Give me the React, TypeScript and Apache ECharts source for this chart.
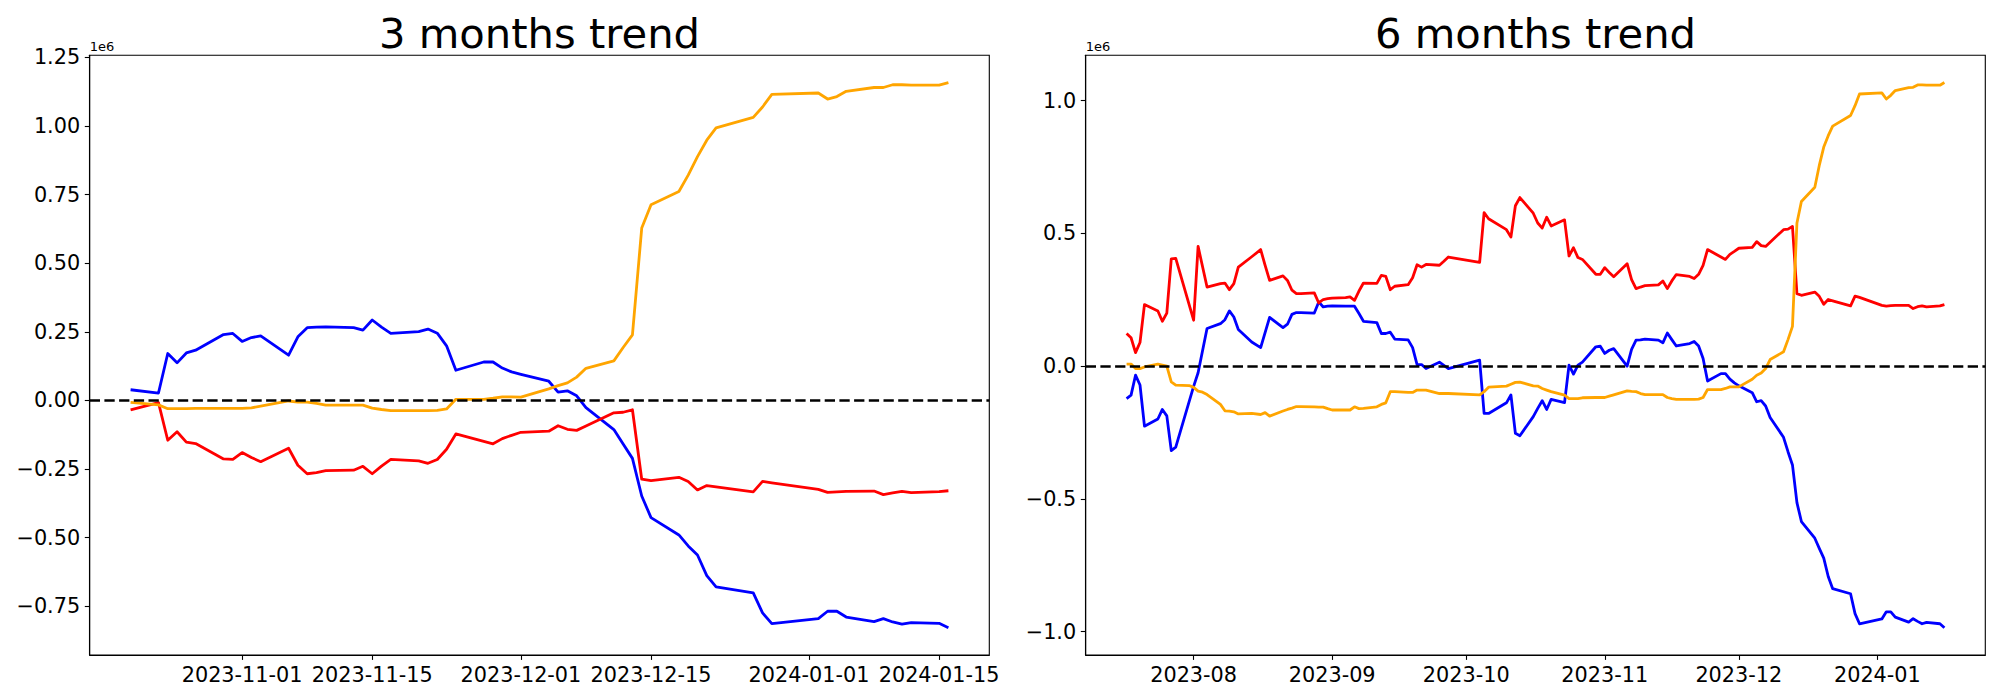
import React, { useEffect, useRef } from "react";
import * as echarts from "echarts";

// ---------- 3 months (left) ----------
const LEFT_DATES = [
  "2023-10-20","2023-10-23","2023-10-24","2023-10-25","2023-10-26","2023-10-27","2023-10-30","2023-10-31",
  "2023-11-01","2023-11-02","2023-11-03","2023-11-06","2023-11-07","2023-11-08","2023-11-09","2023-11-10","2023-11-13","2023-11-14","2023-11-15","2023-11-16","2023-11-17","2023-11-20","2023-11-21","2023-11-22","2023-11-23","2023-11-24","2023-11-27","2023-11-28","2023-11-29","2023-11-30",
  "2023-12-01","2023-12-04","2023-12-05","2023-12-06","2023-12-07","2023-12-08","2023-12-11","2023-12-12","2023-12-13","2023-12-14","2023-12-15","2023-12-18","2023-12-19","2023-12-20","2023-12-21","2023-12-22","2023-12-26","2023-12-27","2023-12-28",
  "2024-01-02","2024-01-03","2024-01-04","2024-01-05","2024-01-08","2024-01-09","2024-01-10","2024-01-11","2024-01-12","2024-01-15","2024-01-16",
];
// values in units of 1e6
const LEFT_BLUE = [
  0.039, 0.027, 0.171, 0.137, 0.173, 0.183, 0.240, 0.244,
  0.215, 0.229, 0.235, 0.165, 0.232, 0.265, 0.267, 0.268, 0.265, 0.256, 0.293, 0.267, 0.244, 0.251, 0.260, 0.245, 0.199, 0.110, 0.140, 0.140, 0.118, 0.104,
  0.095, 0.070, 0.030, 0.035, 0.017, -0.026, -0.106, -0.159, -0.211, -0.348, -0.427, -0.490, -0.530, -0.563, -0.638, -0.679, -0.701, -0.774, -0.813,
  -0.795, -0.768, -0.768, -0.789, -0.806, -0.795, -0.807, -0.815, -0.809, -0.812, -0.828,
];
const LEFT_RED = [
  -0.034, -0.008, -0.145, -0.114, -0.152, -0.157, -0.213, -0.215,
  -0.190, -0.208, -0.223, -0.174, -0.236, -0.267, -0.263, -0.256, -0.254, -0.240, -0.267, -0.239, -0.215, -0.220, -0.229, -0.215, -0.178, -0.122, -0.149, -0.158, -0.139, -0.127,
  -0.116, -0.112, -0.092, -0.105, -0.109, -0.093, -0.045, -0.043, -0.034, -0.287, -0.292, -0.280, -0.295, -0.326, -0.310, -0.315, -0.333, -0.295, -0.300,
  -0.324, -0.335, -0.333, -0.331, -0.330, -0.343, -0.337, -0.331, -0.336, -0.332, -0.329,
];
const LEFT_ORANGE = [
  -0.007, -0.016, -0.030, -0.030, -0.030, -0.029, -0.029, -0.029,
  -0.029, -0.027, -0.021, -0.002, -0.006, -0.006, -0.011, -0.017, -0.017, -0.017, -0.028, -0.033, -0.037, -0.037, -0.037, -0.036, -0.031, 0.004, 0.004, 0.008, 0.013, 0.013,
  0.012, 0.042, 0.054, 0.064, 0.085, 0.117, 0.144, 0.193, 0.239, 0.628, 0.713, 0.761, 0.821, 0.888, 0.948, 0.993, 1.031, 1.069, 1.115,
  1.120, 1.098, 1.107, 1.126, 1.140, 1.140, 1.150, 1.150, 1.149, 1.149, 1.158,
];

// ---------- 6 months (right) ----------
const RIGHT_DATES = [
  "2023-07-17","2023-07-18","2023-07-19","2023-07-20","2023-07-21","2023-07-24","2023-07-25","2023-07-26","2023-07-27","2023-07-28","2023-07-31",
  "2023-08-01","2023-08-02","2023-08-03","2023-08-04","2023-08-07","2023-08-08","2023-08-09","2023-08-10","2023-08-11","2023-08-14","2023-08-16","2023-08-17","2023-08-18","2023-08-21","2023-08-22","2023-08-23","2023-08-24","2023-08-25","2023-08-28","2023-08-29","2023-08-30","2023-08-31",
  "2023-09-01","2023-09-04","2023-09-05","2023-09-06","2023-09-07","2023-09-08","2023-09-11","2023-09-12","2023-09-13","2023-09-14","2023-09-15","2023-09-18","2023-09-19","2023-09-20","2023-09-21","2023-09-22","2023-09-25","2023-09-26","2023-09-27",
  "2023-10-04","2023-10-05","2023-10-06","2023-10-10","2023-10-11","2023-10-12","2023-10-13","2023-10-16","2023-10-17","2023-10-18","2023-10-19","2023-10-20","2023-10-23","2023-10-24","2023-10-25","2023-10-26","2023-10-27","2023-10-30","2023-10-31",
  "2023-11-01","2023-11-02","2023-11-03","2023-11-06","2023-11-07","2023-11-08","2023-11-09","2023-11-10","2023-11-13","2023-11-14","2023-11-15","2023-11-16","2023-11-17","2023-11-20","2023-11-21","2023-11-22","2023-11-23","2023-11-24","2023-11-27","2023-11-28","2023-11-29","2023-11-30",
  "2023-12-01","2023-12-04","2023-12-05","2023-12-06","2023-12-07","2023-12-08","2023-12-11","2023-12-12","2023-12-13","2023-12-14","2023-12-15","2023-12-18","2023-12-19","2023-12-20","2023-12-21","2023-12-22","2023-12-26","2023-12-27","2023-12-28",
  "2024-01-02","2024-01-03","2024-01-04","2024-01-05","2024-01-08","2024-01-09","2024-01-10","2024-01-11","2024-01-12","2024-01-15","2024-01-16",
];
const RIGHT_BLUE = [
  -0.122, -0.109, -0.034, -0.071, -0.226, -0.199, -0.163, -0.187, -0.318, -0.305, null,
  -0.076, -0.025, null, 0.142, 0.160, 0.175, 0.208, 0.185, 0.138, 0.091, 0.070, null, 0.184, 0.145, 0.158, 0.195, 0.202, 0.202, 0.200, 0.242, 0.223, 0.226,
  0.227, 0.226, 0.226, 0.226, 0.198, 0.169, 0.164, 0.123, 0.123, 0.128, 0.102, 0.099, 0.070, 0.006, 0.006, -0.009, 0.015, 0.003, -0.009,
  0.023, -0.178, -0.178, -0.138, -0.108, -0.253, -0.262, -0.190, -0.159, -0.130, -0.163, -0.125, -0.137, 0.004, -0.030, 0.004, 0.015, 0.073, 0.075,
  0.048, 0.060, 0.066, 0.000, 0.063, 0.098, 0.099, 0.102, 0.098, 0.088, 0.125, 0.100, 0.076, 0.085, 0.093, 0.076, 0.029, -0.056, -0.028, -0.028, -0.049, -0.063,
  -0.074, -0.100, -0.134, -0.130, -0.150, -0.193, -0.268, -0.322, -0.372, -0.514, -0.585, -0.648, -0.686, -0.723, -0.792, -0.838, -0.857, -0.932, -0.970,
  -0.952, -0.925, -0.925, -0.945, -0.964, -0.951, -0.961, -0.970, -0.965, -0.970, -0.985,
];
const RIGHT_RED = [
  0.123, 0.107, 0.051, 0.089, 0.232, 0.208, 0.169, 0.200, 0.404, 0.406, null,
  0.173, 0.451, null, 0.298, 0.311, 0.313, 0.288, 0.311, 0.373, 0.412, 0.439, 0.380, 0.323, 0.340, 0.323, 0.286, 0.273, 0.273, 0.276, 0.238, 0.251, 0.254,
  0.256, 0.258, 0.261, 0.248, 0.283, 0.313, 0.312, 0.342, 0.338, 0.288, 0.301, 0.307, 0.333, 0.382, 0.373, 0.383, 0.380, 0.395, 0.411,
  0.391, 0.578, 0.555, 0.514, 0.486, 0.604, 0.635, 0.576, 0.539, 0.520, 0.561, 0.528, 0.551, 0.415, 0.446, 0.409, 0.402, 0.346, 0.346,
  0.371, 0.353, 0.337, 0.386, 0.326, 0.292, 0.298, 0.303, 0.306, 0.321, 0.292, 0.321, 0.345, 0.338, 0.330, 0.346, 0.380, 0.439, 0.411, 0.402, 0.421, 0.432,
  0.444, 0.447, 0.469, 0.454, 0.451, 0.467, 0.514, 0.516, 0.526, 0.273, 0.267, 0.279, 0.263, 0.233, 0.251, 0.246, 0.227, 0.264, 0.259,
  0.229, 0.226, 0.228, 0.229, 0.229, 0.217, 0.224, 0.227, 0.223, 0.227, 0.232,
];
const RIGHT_ORANGE = [
  0.008, 0.008, -0.009, -0.009, -0.003, 0.008, 0.004, 0.000, -0.059, -0.071, -0.073,
  -0.080, -0.094, -0.098, -0.107, -0.144, -0.168, -0.169, -0.172, -0.180, -0.178, -0.182, -0.175, -0.188, -0.169, -0.163, -0.158, -0.152, -0.152, -0.153, -0.154, -0.154, -0.160,
  -0.165, -0.165, -0.165, -0.153, -0.160, -0.159, -0.153, -0.144, -0.138, -0.096, -0.096, -0.099, -0.099, -0.090, -0.090, -0.090, -0.103, -0.103, -0.103,
  -0.108, -0.096, -0.079, -0.075, -0.068, -0.061, -0.060, -0.074, -0.075, -0.084, -0.090, -0.096, -0.109, -0.122, -0.122, -0.122, -0.119, -0.118, -0.118,
  -0.118, -0.113, -0.108, -0.093, -0.095, -0.096, -0.103, -0.107, -0.107, -0.107, -0.118, -0.122, -0.125, -0.125, -0.125, -0.124, -0.118, -0.088, -0.088, -0.084, -0.078, -0.078,
  -0.078, -0.049, -0.034, -0.026, -0.009, 0.025, 0.054, 0.100, 0.150, 0.539, 0.620, 0.674, 0.756, 0.825, 0.868, 0.904, 0.944, 0.981, 1.025,
  1.029, 1.006, 1.020, 1.038, 1.049, 1.050, 1.059, 1.059, 1.058, 1.058, 1.068,
];

// ---------- ticks ----------
const LEFT_X_TICKS = ["2023-11-01", "2023-11-15", "2023-12-01", "2023-12-15", "2024-01-01", "2024-01-15"];
const LEFT_X_LABELS = ["2023-11-01", "2023-11-15", "2023-12-01", "2023-12-15", "2024-01-01", "2024-01-15"];
const RIGHT_X_TICKS = ["2023-08-01", "2023-09-01", "2023-10-01", "2023-11-01", "2023-12-01", "2024-01-01"];
const RIGHT_X_LABELS = ["2023-08", "2023-09", "2023-10", "2023-11", "2023-12", "2024-01"];
const LEFT_Y_TICKS = [-0.75, -0.5, -0.25, 0, 0.25, 0.5, 0.75, 1.0, 1.25];
const LEFT_Y_LABELS = ["\u22120.75", "\u22120.50", "\u22120.25", "0.00", "0.25", "0.50", "0.75", "1.00", "1.25"];
const RIGHT_Y_TICKS = [-1.0, -0.5, 0, 0.5, 1.0];
const RIGHT_Y_LABELS = ["\u22121.0", "\u22120.5", "0.0", "0.5", "1.0"];
const TITLES = ["3 months trend", "6 months trend"];
const OFFSET_TEXT = "1e6";

const FONT = "DejaVu Sans";

function ts(s: string): number {
  const [y, m, d] = s.split("-").map(Number);
  return Date.UTC(y, m - 1, d);
}

function xRange(dates: string[]): [number, number] {
  const a = ts(dates[0]);
  const b = ts(dates[dates.length - 1]);
  const p = (b - a) * 0.05;
  return [a - p, b + p];
}

function yRange(arrs: (number | null)[][]): [number, number] {
  const all = arrs.flat().filter((v) => v !== null) as number[];
  const mn = Math.min(...all);
  const mx = Math.max(...all);
  const p = (mx - mn) * 0.05;
  return [mn - p, mx + p];
}

function lookup(ticks: number[], labels: string[]) {
  return (v: number) => {
    for (let i = 0; i < ticks.length; i++) {
      if (Math.abs(ticks[i] - v) < 1e-6 * Math.max(1, Math.abs(ticks[i]))) return labels[i];
    }
    return "";
  };
}

const GRIDS = [
  { left: 89.7, top: 55.3, width: 899.6, height: 599.7 },
  { left: 1085.7, top: 55.3, width: 899.6, height: 599.7 },
];

const COLORS = { blue: "#0000ff", red: "#ff0000", orange: "#ffa500" };

export default function App() {
  const ref = useRef<HTMLDivElement>(null);

  useEffect(() => {
    if (!ref.current) return;
    const chart = echarts.init(ref.current, undefined, { renderer: "svg" });

    const panels = [
      {
        dates: LEFT_DATES,
        blue: LEFT_BLUE,
        red: LEFT_RED,
        orange: LEFT_ORANGE,
        xTicks: LEFT_X_TICKS.map(ts),
        xLabels: LEFT_X_LABELS,
        yTicks: LEFT_Y_TICKS,
        yLabels: LEFT_Y_LABELS,
      },
      {
        dates: RIGHT_DATES,
        blue: RIGHT_BLUE,
        red: RIGHT_RED,
        orange: RIGHT_ORANGE,
        xTicks: RIGHT_X_TICKS.map(ts),
        xLabels: RIGHT_X_LABELS,
        yTicks: RIGHT_Y_TICKS,
        yLabels: RIGHT_Y_LABELS,
      },
    ];

    const axisLineStyle = { color: "#000", width: 1.1 };
    const labelStyle = { color: "#000", fontSize: 20.8, fontFamily: FONT };

    const xAxis: any[] = [];
    const yAxis: any[] = [];
    const series: any[] = [];
    const graphic: any[] = [];

    panels.forEach((p, i) => {
      const [xmin, xmax] = xRange(p.dates);
      const [ymin, ymax] = yRange([p.blue, p.red, p.orange]);
      xAxis.push({
        type: "value",
        gridIndex: i,
        min: xmin,
        max: xmax,
        scale: true,
        splitLine: { show: false },
        axisLine: { show: true, onZero: false, lineStyle: axisLineStyle },
        axisTick: { show: true, inside: false, length: 4.9, lineStyle: axisLineStyle, customValues: p.xTicks },
        axisLabel: {
          ...labelStyle,
          margin: 9,
          customValues: p.xTicks,
          hideOverlap: false,
          formatter: lookup(p.xTicks, p.xLabels),
        },
      });
      yAxis.push({
        type: "value",
        gridIndex: i,
        min: ymin,
        max: ymax,
        splitLine: { show: false },
        axisLine: { show: true, onZero: false, lineStyle: axisLineStyle },
        axisTick: { show: true, inside: false, length: 4.9, lineStyle: axisLineStyle, customValues: p.yTicks },
        axisLabel: {
          ...labelStyle,
          margin: 9.5,
          customValues: p.yTicks,
          formatter: lookup(p.yTicks, p.yLabels),
        },
      });
      const mk = (name: string, vals: (number | null)[], color: string, extra: any = {}) => ({
        name,
        type: "line",
        xAxisIndex: i,
        yAxisIndex: i,
        data: p.dates.map((d, k) => [ts(d), vals[k]]),
        showSymbol: false,
        symbol: "none",
        connectNulls: true,
        lineStyle: { color, width: 2.8, join: "round" },
        itemStyle: { color },
        silent: true,
        ...extra,
      });
      series.push(mk("blue", p.blue, COLORS.blue));
      series.push(mk("red", p.red, COLORS.red));
      series.push(
        mk("orange", p.orange, COLORS.orange, {
          markLine: {
            silent: true,
            symbol: ["none", "none"],
            label: { show: false },
            lineStyle: { color: "#000", type: [10.3, 4.4], width: 2.5 },
            data: [{ yAxis: 0 }],
            z: 10,
          },
        })
      );

      const g = GRIDS[i];
      graphic.push({
        type: "text",
        x: g.left + g.width / 2,
        y: 33,
        style: {
          text: TITLES[i],
          fontSize: 41.7,
          fontFamily: FONT,
          fill: "#000",
          textAlign: "center",
          textVerticalAlign: "middle",
        },
      });
      graphic.push({
        type: "text",
        x: g.left,
        y: 46,
        style: {
          text: OFFSET_TEXT,
          fontSize: 13,
          fontFamily: FONT,
          fill: "#000",
          textAlign: "left",
          textVerticalAlign: "middle",
        },
      });
    });

    chart.setOption({
      animation: false,
      backgroundColor: "#fff",
      textStyle: { fontFamily: FONT },
      grid: GRIDS.map((g) => ({
        ...g,
        show: true,
        borderColor: "#000",
        borderWidth: 1.1,
        backgroundColor: "transparent",
        containLabel: false,
      })),
      xAxis,
      yAxis,
      series,
      graphic,
    });

    return () => chart.dispose();
  }, []);

  return (
    <div
      ref={ref}
      style={{ position: "absolute", left: 0, top: 0, width: 2000, height: 700, background: "#fff" }}
    />
  );
}
